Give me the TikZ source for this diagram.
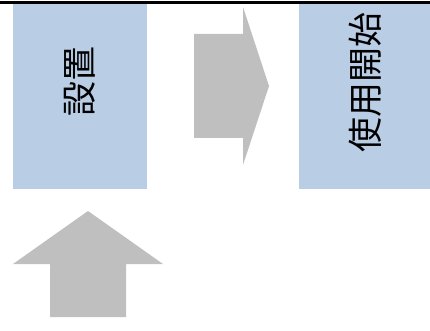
\documentclass[tikz,border=0pt]{standalone}
\usepackage{fontspec}
\newfontfamily\cjk{Noto Sans CJK JP}
\definecolor{boxblue}{HTML}{B9CDE5}
\definecolor{arrowgray}{HTML}{BFBFBF}
\begin{document}
\begin{tikzpicture}[x=1pt,y=-1pt,
  stepbox/.style={fill=boxblue,draw=none},
  bigarrow/.style={fill=arrowgray,draw=none},
  label/.style={font=\cjk\fontsize{35}{40}\selectfont,rotate=90,inner sep=0pt}]
\useasboundingbox (0,0) rectangle (430,331);
\fill[stepbox] (13,4.5) rectangle (147,189);
\fill[stepbox] (299,4.5) rectangle (430,189);
\draw[line width=3pt] (0,3) -- (430,3);
\fill[bigarrow] (194,34) -- (243,34) -- (243,7) -- (269,86) -- (243,165) -- (243,138) -- (194,138) -- cycle;
\fill[bigarrow] (50,317) -- (50,264) -- (13,264) -- (88,211) -- (163,264) -- (126,264) -- (126,317) -- cycle;
\node[label] (a) at (80,82) {設置};
\node[label] (b) at (365,83) {使用開始};
\end{tikzpicture}
\end{document}
